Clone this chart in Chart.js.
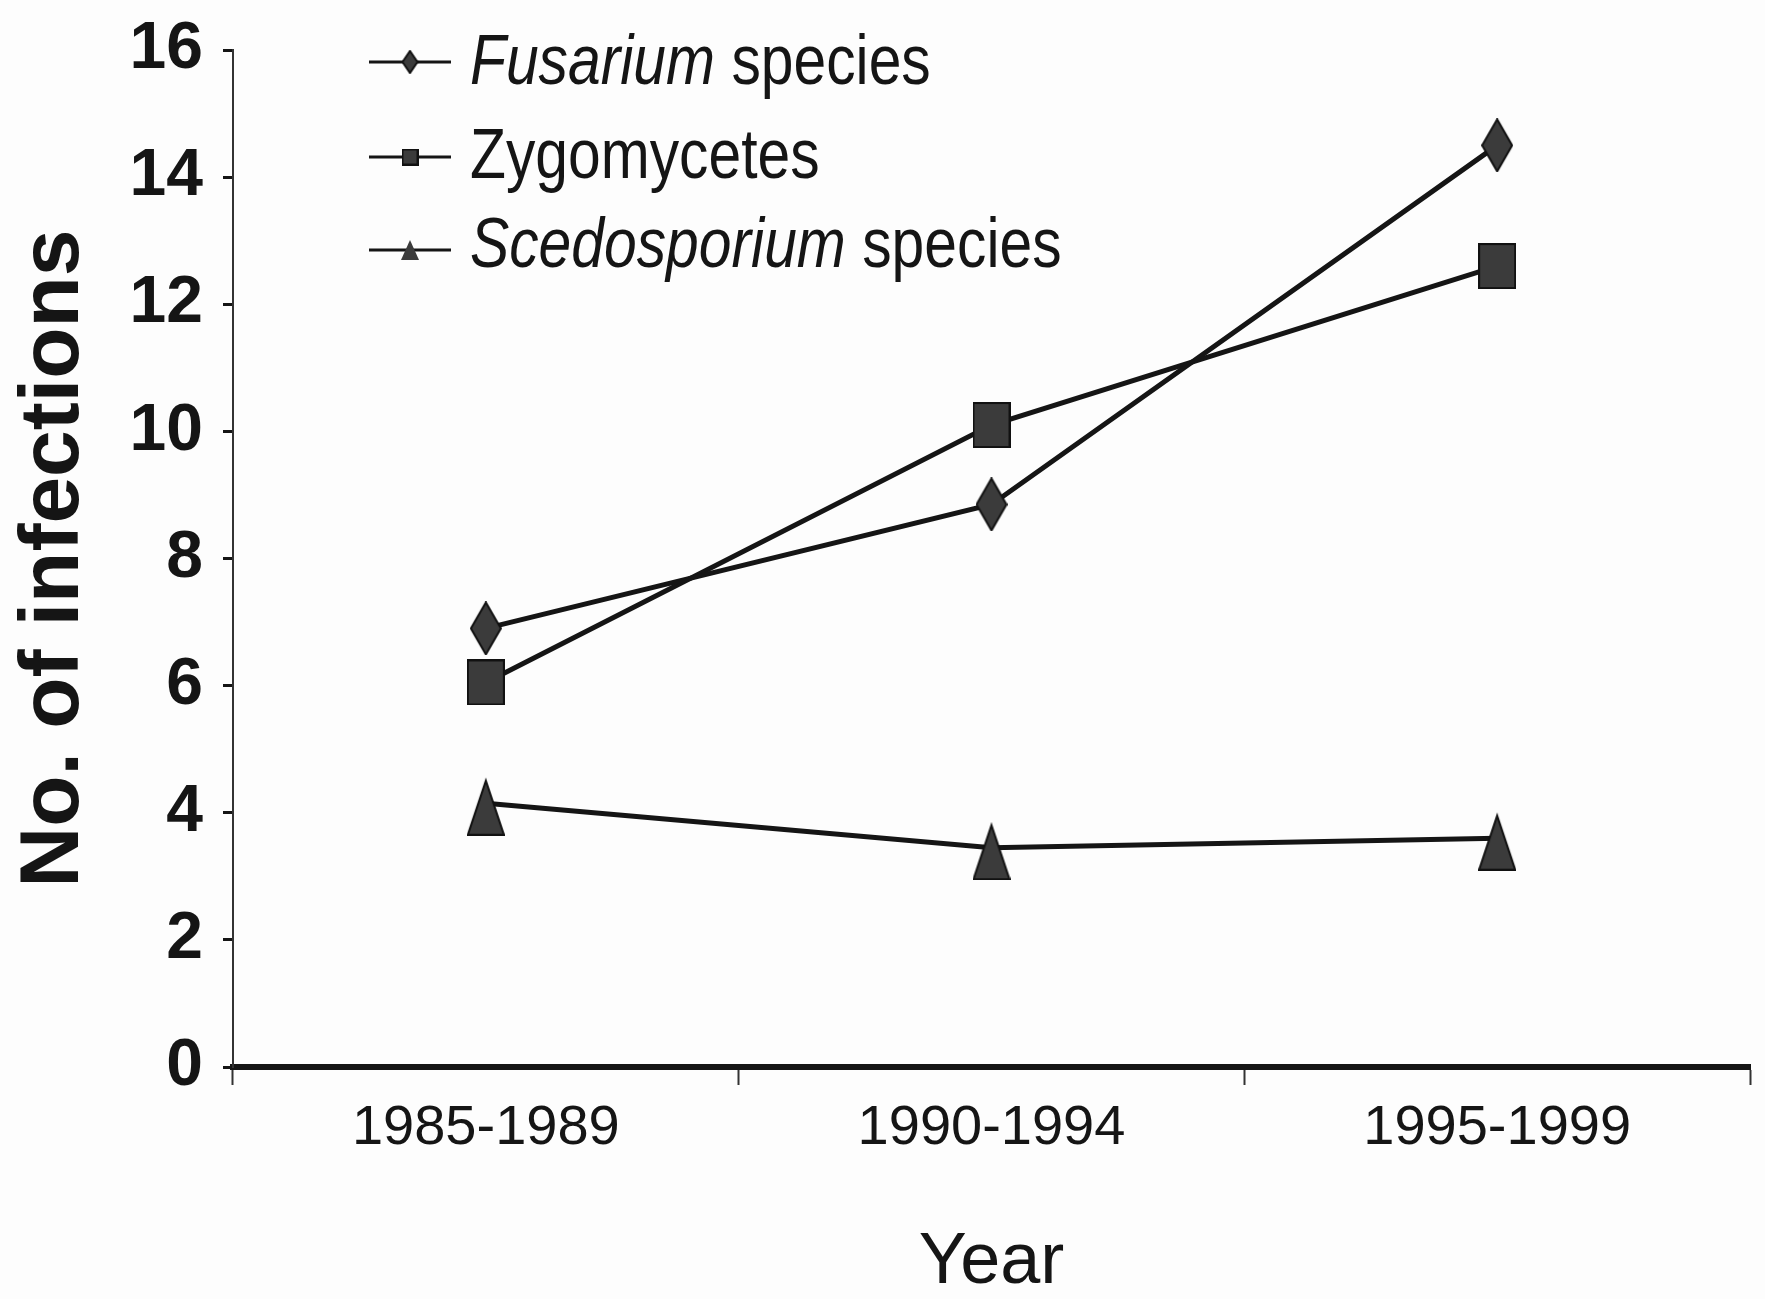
<!DOCTYPE html>
<html>
<head>
<meta charset="utf-8">
<script src="https://cdn.jsdelivr.net/npm/chart.js@4.4.1/dist/chart.umd.min.js"></script>
<style>
  html, body { margin: 0; padding: 0; background: #fdfdfd; }
  #wrap { width: 1765px; height: 1299px; }
</style>
</head>
<body>
<div id="wrap"><canvas id="infectionChart" width="1765" height="1299"></canvas></div>
<script>
// data
var periods = ['1985-1989', '1990-1994', '1995-1999'];
var fusarium = [6.9, 8.85, 14.5];
var zygomycetes = [6.05, 10.1, 12.6];
var scedosporium = [4.15, 3.45, 3.6];
var yTicks = [0, 2, 4, 6, 8, 10, 12, 14, 16];
// legend: italic genus part + plain part
var legendItalic = ['Fusarium', '', 'Scedosporium'];
var legendPlain = [' species', 'Zygomycetes', ' species'];

var sans = "'Liberation Sans', Arial, sans-serif";
var ink = '#151515';

// elongated markers like the scan (taller than wide)
function makeMarker(shape, w, h) {
  var c = document.createElement('canvas');
  var top = 0;
  if (shape === 'triangle') top = Math.round(h * 0.16); // line meets triangle above its middle
  c.width = w; c.height = h + top;
  var g = c.getContext('2d');
  g.fillStyle = '#3b3b3b';
  g.strokeStyle = '#111';
  g.lineWidth = 2;
  g.beginPath();
  if (shape === 'diamond') {
    g.moveTo(w / 2, 1); g.lineTo(w - 1, h / 2); g.lineTo(w / 2, h - 1); g.lineTo(1, h / 2);
  } else if (shape === 'square') {
    g.rect(1, 1, w - 2, h - 2);
  } else {
    g.moveTo(w / 2, top + 1); g.lineTo(w - 1, top + h - 1); g.lineTo(1, top + h - 1);
  }
  g.closePath();
  g.fill();
  g.stroke();
  return c;
}

function smallTriangle() {
  var c = document.createElement('canvas');
  c.width = 18; c.height = 20;
  var g = c.getContext('2d');
  g.fillStyle = '#3b3b3b';
  g.beginPath(); g.moveTo(9, 0); g.lineTo(18, 20); g.lineTo(0, 20); g.closePath(); g.fill();
  return c;
}

var markers = [makeMarker('diamond', 32, 54), makeMarker('square', 38, 46), makeMarker('triangle', 38, 56)];
var smallMarkers = [makeMarker('diamond', 17, 24), makeMarker('square', 17, 17), smallTriangle()];

var scanLegend = {
  id: 'scanLegend',
  afterDraw: function(chart) {
    var ctx = chart.ctx;
    var a = chart.chartArea;
    var baselines = [34, 128, 217];   // text baseline below chart top
    var lineDy = [-22, -21, -17];
    ctx.save();
    for (var i = 0; i < 3; i++) {
      var base = a.top + baselines[i];
      var ly = base + lineDy[i];
      var x0 = a.left + 136;
      ctx.strokeStyle = ink;
      ctx.lineWidth = 3;
      ctx.beginPath();
      ctx.moveTo(x0, ly);
      ctx.lineTo(x0 + 82, ly);
      ctx.stroke();
      var m = smallMarkers[i];
      ctx.drawImage(m, x0 + 41 - m.width / 2, ly - m.height / 2);
      // condensed type, like the original figure
      ctx.save();
      ctx.translate(x0 + 101, base);
      ctx.scale(0.84, 1);
      var tx = 0;
      ctx.fillStyle = ink;
      ctx.textBaseline = 'alphabetic';
      ctx.textAlign = 'left';
      if (legendItalic[i]) {
        ctx.font = 'italic 70px ' + sans;
        ctx.fillText(legendItalic[i], tx, 0);
        tx += ctx.measureText(legendItalic[i]).width;
      }
      ctx.font = '70px ' + sans;
      ctx.fillText(legendPlain[i], tx, 0);
      ctx.restore();
    }
    ctx.restore();
  }
};

function seriesStyle(label, values, idx) {
  return {
    label: label,
    data: values,
    borderColor: ink,
    borderWidth: 5,
    tension: 0,
    pointStyle: markers[idx],
    pointRadius: 20,
    pointHoverRadius: 20
  };
}

var chart = new Chart(document.getElementById('infectionChart').getContext('2d'), {
  type: 'line',
  data: {
    labels: periods,
    datasets: [
      seriesStyle('Fusarium species', fusarium, 0),
      seriesStyle('Zygomycetes', zygomycetes, 1),
      seriesStyle('Scedosporium species', scedosporium, 2)
    ]
  },
  options: {
    responsive: false,
    animation: false,
    layout: { autoPadding: false, padding: { left: 0, right: 15, top: 50, bottom: 0 } },
    plugins: { legend: { display: false }, tooltip: { enabled: false } },
    scales: {
      x: {
        offset: true,
        grid: { display: true, offset: true, drawOnChartArea: false, tickLength: 18, tickWidth: 2, tickColor: '#333' },
        border: { color: ink, width: 6 },
        ticks: { color: ink, padding: 10, font: { family: sans, size: 56 } },
        title: { display: true, text: 'Year', color: ink, padding: 0, font: { family: sans, size: 72, lineHeight: 1.0 } },
        afterFit: function(s) { s.height = 232; }
      },
      y: {
        min: 0,
        max: 16,
        afterBuildTicks: function(s) { s.ticks = yTicks.map(function(v) { return { value: v }; }); },
        grid: { display: true, drawOnChartArea: false, tickLength: 10, tickWidth: 3, tickColor: ink },
        border: { color: '#333', width: 2 },
        ticks: { color: ink, padding: 20, font: { family: sans, size: 66, weight: 'bold', lineHeight: 0.9 } },
        title: { display: true, text: 'No. of infections', color: ink, padding: { top: 4, bottom: 0 }, font: { family: sans, size: 84, weight: 'bold', lineHeight: 1.2 } },
        afterFit: function(s) { s.width = 233; }
      }
    }
  },
  plugins: [scanLegend]
});
</script>
</body>
</html>
